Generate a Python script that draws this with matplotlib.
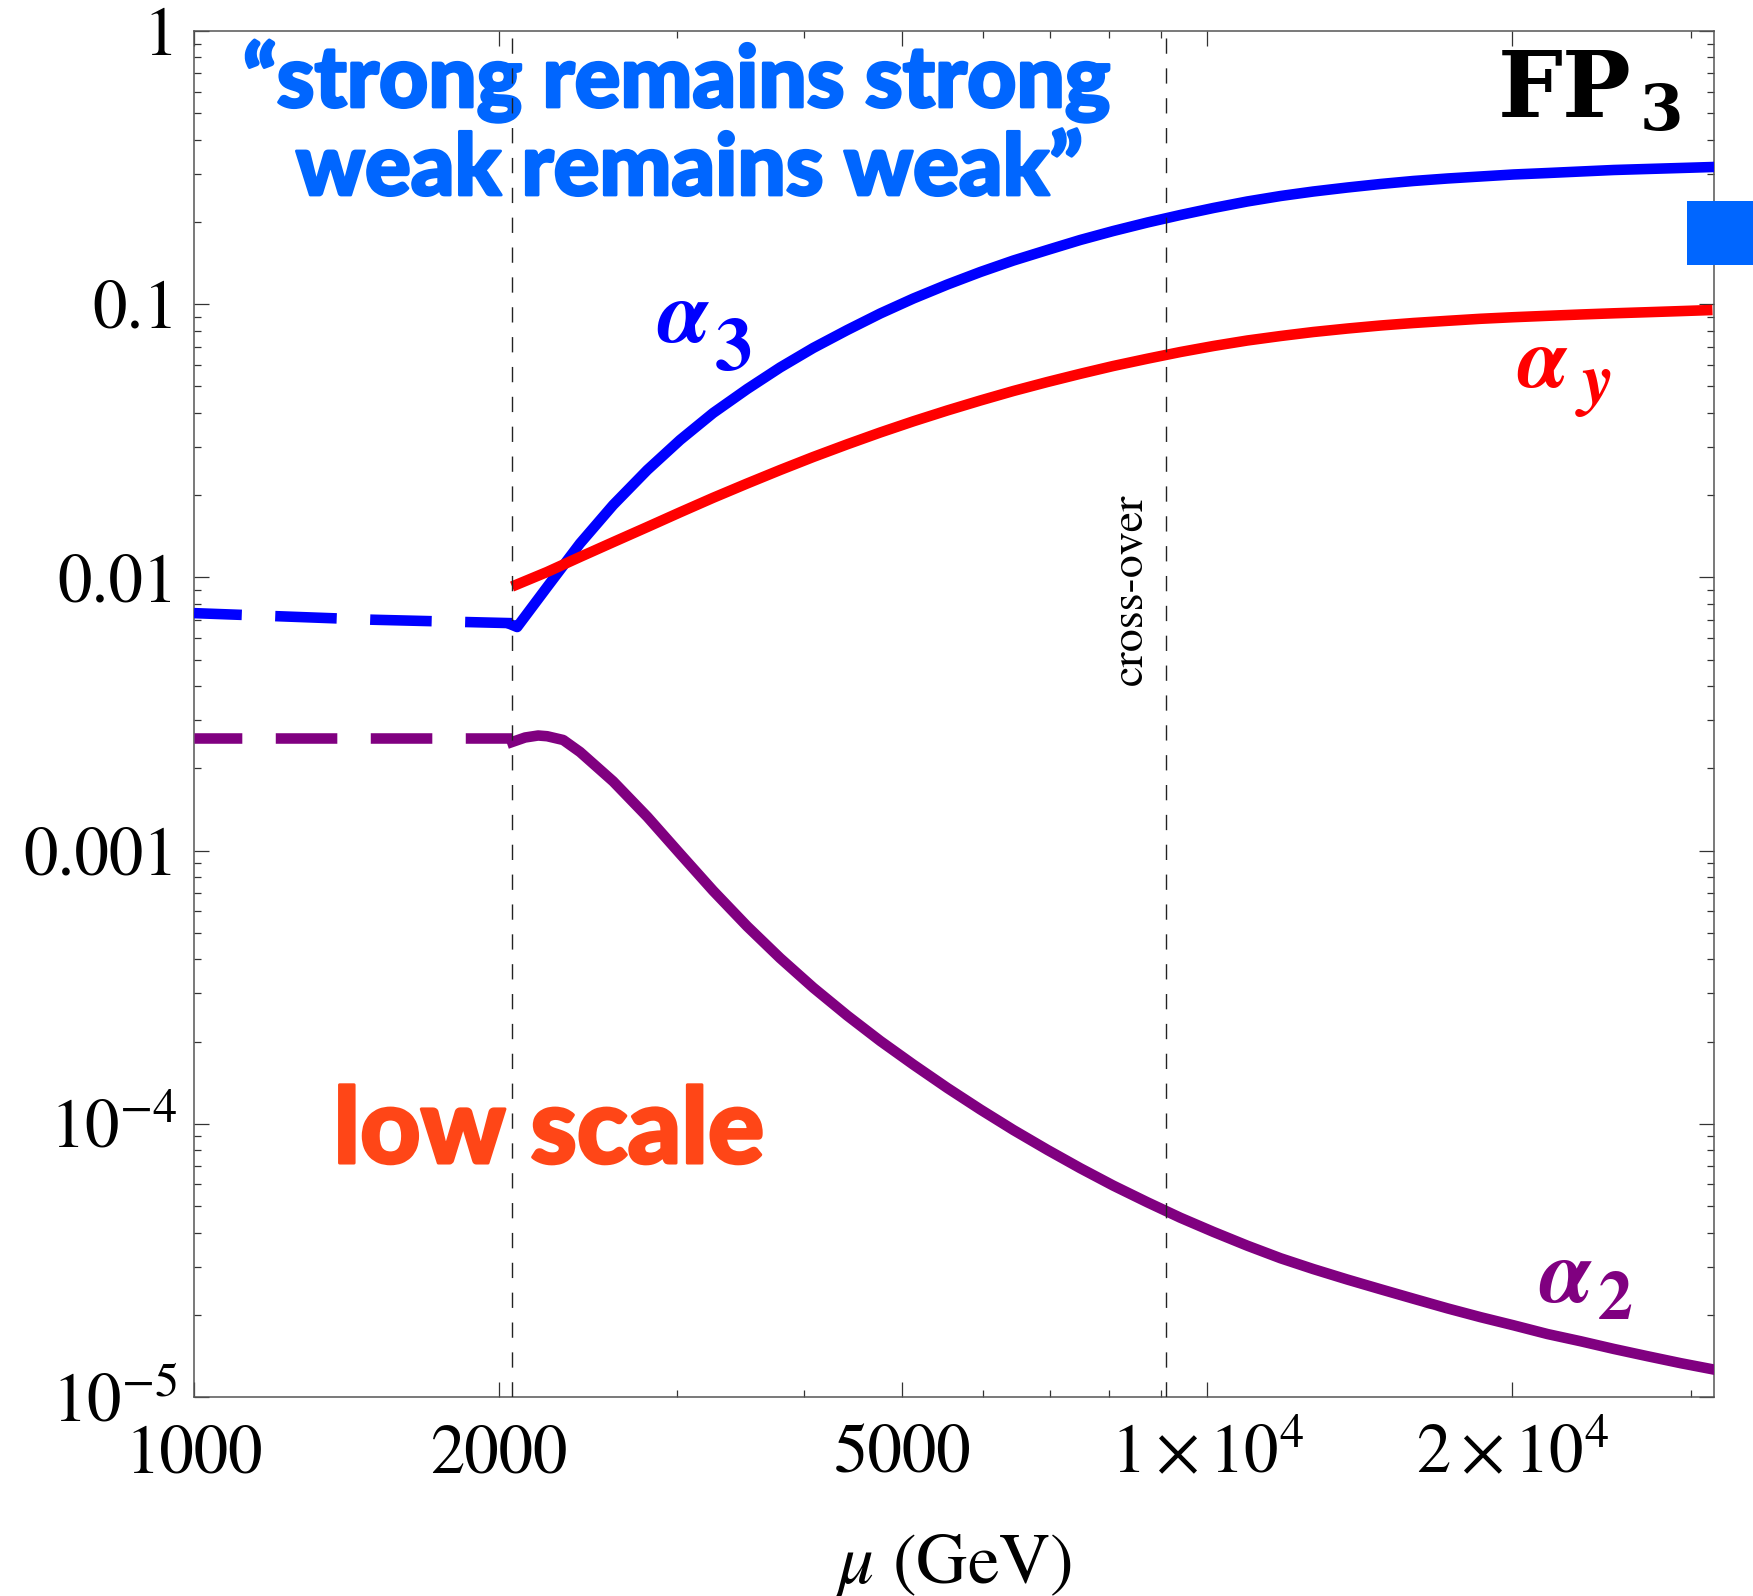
import matplotlib
matplotlib.use("Agg")
import matplotlib.pyplot as plt
import matplotlib.patheffects as pe
from matplotlib.patches import Rectangle
from matplotlib.ticker import FixedLocator, FixedFormatter, NullFormatter

# ---------------- data ----------------
mu_low_a3 = [1000, 1500, 2060]
alpha3_low = [0.0074, 0.0070, 0.0068]
mu_low_a2 = [1000, 2060]
alpha2_low = [0.00259, 0.00259]

mu_a3 = [2060, 2084, 2231, 2404, 2592, 2801, 3018, 3253, 3515, 3788, 4084,
         4412, 4756, 5127, 5538, 5971, 6436, 6952, 7491, 8075, 8727, 9406,
         10140, 10950, 11810, 12720, 13750, 14820, 15970, 17260, 18600,
         20050, 21660, 23350, 25170, 27190, 29310, 31620]
alpha3 = [0.00670, 0.006582, 0.009225, 0.01331, 0.01841, 0.02472, 0.03185,
          0.03997, 0.04893, 0.05866, 0.06915, 0.08043, 0.09247, 0.1049,
          0.1180, 0.1312, 0.1445, 0.1579, 0.1718, 0.1853, 0.1991, 0.2121,
          0.2250, 0.2377, 0.2489, 0.2585, 0.2674, 0.2754, 0.2825, 0.2885,
          0.2934, 0.2984, 0.3021, 0.3060, 0.3099, 0.3126, 0.3152, 0.3179]

mu_ay = [2060, 2231, 2404, 2592, 2801, 3018, 3253, 3515, 3788, 4084, 4412,
         4756, 5127, 5538, 5971, 6436, 6952, 7491, 8075, 8727, 9406, 10140,
         10950, 11810, 12720, 13750, 14820, 15970, 17260, 18600, 20050,
         21660, 23350, 25170, 27190, 29310, 31510]
alphay = [0.009259, 0.01047, 0.01188, 0.01346, 0.01529, 0.01731, 0.01956,
          0.02207, 0.02472, 0.02759, 0.03070, 0.03392, 0.03727, 0.04083,
          0.04442, 0.04812, 0.05190, 0.05561, 0.05940, 0.06317, 0.06683,
          0.07031, 0.07364, 0.07648, 0.07910, 0.08147, 0.08356, 0.08534,
          0.08693, 0.08843, 0.08962, 0.09068, 0.09169, 0.09262, 0.09348,
          0.09435, 0.09523]

mu_a2 = [2060, 2122, 2186, 2231, 2314, 2404, 2592, 2801, 3018, 3253, 3515,
         3788, 4084, 4412, 4756, 5127, 5538, 5971, 6436, 6952, 7491, 8075,
         8727, 9406, 10140, 10950, 11810, 12720, 13750, 14820, 15970, 17260,
         18600, 20050, 21660, 23350, 25170, 27190, 29310, 31620]
alpha2 = [0.002497, 0.002594, 0.002638, 0.002622, 0.002540, 0.002296,
          0.001792, 0.001330, 0.000973, 0.000713, 0.000528, 0.000404,
          0.000315, 0.000249, 0.000201, 0.0001647, 0.0001353, 0.0001128,
          0.0000949, 0.0000803, 0.0000688, 0.0000594, 0.0000516, 0.0000453,
          0.0000402, 0.0000358, 0.0000322, 0.0000294, 0.0000269, 0.0000248,
          0.0000229, 0.0000211, 0.0000196, 0.0000183, 0.0000170, 0.0000160,
          0.0000150, 0.0000141, 0.0000133, 0.0000126]

threshold_mu = 2060
crossover_mu = 9110

x_major = [1000, 2000, 5000, 10000, 20000]
x_major_labels = ["1000", "2000", "5000", r"$1\times10^{4}$", r"$2\times10^{4}$"]
x_minor = [3000, 4000, 6000, 7000, 8000, 9000, 30000]
y_major = [1e-5, 1e-4, 1e-3, 1e-2, 1e-1, 1]
y_major_labels = [r"$10^{-5}$", r"$10^{-4}$", "0.001", "0.01", "0.1", "1"]
y_minor = [m * 10.0 ** e for e in range(-5, 0) for m in range(2, 10)]

# ---------------- figure ----------------
W, H = 1753, 1596
plt.rcParams["font.family"] = ["STIXGeneral", "DejaVu Serif"]
plt.rcParams["mathtext.fontset"] = "stix"

fig = plt.figure(figsize=(W / 100, H / 100), dpi=100)
ax = fig.add_axes([194 / W, 1 - 1397 / H, (1714 - 194) / W, (1397 - 31) / H])
ax.set_xscale("log")
ax.set_yscale("log")
ax.set_xlim(1000, 31620)
ax.set_ylim(1e-5, 1)

BLUE, RED, PURPLE = "#0000FF", "#FF0000", "#800080"
LW = 7.6
dash = (1.3, (5.83, 3.17))
ax.plot(mu_low_a3, alpha3_low, color=BLUE, lw=LW, ls=dash, zorder=3)
ax.plot(mu_low_a2, alpha2_low, color=PURPLE, lw=LW, ls=dash, zorder=3)
ax.plot(mu_a3, alpha3, color=BLUE, lw=LW, zorder=3, solid_joinstyle="round")
ax.plot(mu_ay, alphay, color=RED, lw=LW, zorder=3, solid_capstyle="butt",
        solid_joinstyle="round")
ax.plot(mu_a2, alpha2, color=PURPLE, lw=LW, zorder=3, solid_joinstyle="round")

for xv in (threshold_mu, crossover_mu):
    ax.axvline(xv, color="#222222", lw=1.0, dashes=(11, 10.5), zorder=5)

# ticks
ax.xaxis.set_major_locator(FixedLocator(x_major))
ax.xaxis.set_major_formatter(FixedFormatter(x_major_labels))
ax.xaxis.set_minor_locator(FixedLocator(x_minor))
ax.xaxis.set_minor_formatter(NullFormatter())
ax.yaxis.set_major_locator(FixedLocator(y_major))
ax.yaxis.set_major_formatter(FixedFormatter(y_major_labels))
ax.yaxis.set_minor_locator(FixedLocator(y_minor))
ax.yaxis.set_minor_formatter(NullFormatter())

ax.tick_params(which="both", direction="in", top=True, right=True,
               color="#333333", width=0.9, labelsize=49.5)
ax.tick_params(which="major", length=10.8)
ax.tick_params(which="minor", length=4.7)
ax.tick_params(axis="x", which="major", pad=54.5)
ax.tick_params(axis="y", which="major", pad=11.5)
for lab in ax.get_xticklabels():
    lab.set_verticalalignment("baseline")

for sp in ax.spines.values():
    sp.set_color("#555555")
    sp.set_linewidth(1.1)

ax.set_xlabel(r"$\mu$ (GeV)", fontsize=51)
ax.xaxis.set_label_coords(0.5, -0.0985)


def ftext(x, y, s, **kw):
    return ax.text(x / W, 1 - y / H, s, transform=fig.transFigure,
                   clip_on=False, **kw)


QBLUE = "#0066FF"
ORANGE = "#FF4617"
t1 = ftext(676, 107, "\u201cstrong remains strong", color=QBLUE, fontsize=61.5,
           family="Lato", weight="black", ha="center", va="baseline", zorder=2)
t2 = ftext(689, 195, "weak remains weak\u201d", color=QBLUE, fontsize=61.5,
           family="Lato", weight="black", ha="center", va="baseline", zorder=2)
t3 = ftext(549, 1163, "low scale", color=ORANGE, fontsize=75.5,
           family="Lato", weight="black", ha="center", va="baseline", zorder=2)
t1.set_path_effects([pe.withStroke(linewidth=2.0, foreground=QBLUE)])
t2.set_path_effects([pe.withStroke(linewidth=2.0, foreground=QBLUE)])
t3.set_path_effects([pe.withStroke(linewidth=2.2, foreground=ORANGE)])

ftext(1632, 117, "FP", color="black", fontsize=66, weight="bold",
      family="DejaVu Serif", ha="right", va="baseline", zorder=2)
ftext(1640, 130, "3", color="black", fontsize=45, weight="bold",
      family="DejaVu Serif", ha="left", va="baseline", zorder=2)

ftext(683, 342, "\u03b1", color=BLUE, fontsize=64, weight="bold",
      style="italic", ha="center", va="baseline", zorder=2)
ftext(733, 370, "3", color=BLUE, fontsize=54, weight="bold",
      ha="center", va="baseline", zorder=2)
ftext(1542, 387, "\u03b1", color=RED, fontsize=62, weight="bold",
      style="italic", ha="center", va="baseline", zorder=2)
ftext(1598, 402, "y", color=RED, fontsize=52, weight="bold",
      style="italic", ha="center", va="baseline", zorder=2)
ftext(1565, 1302, "\u03b1", color=PURPLE, fontsize=65, weight="bold",
      style="italic", ha="center", va="baseline", zorder=2)
ftext(1615, 1319, "2", color=PURPLE, fontsize=50, weight="bold",
      ha="center", va="baseline", zorder=2)

ftext(1131, 589, "cross-over", color="black", fontsize=33, rotation=90,
      ha="center", va="center", zorder=2)

fig.patches.append(Rectangle((1687 / W, 1 - 265 / H), (W - 1687) / W,
                             64 / H, transform=fig.transFigure,
                             facecolor=QBLUE, edgecolor="none"))

fig.savefig("out.png", dpi=100)
